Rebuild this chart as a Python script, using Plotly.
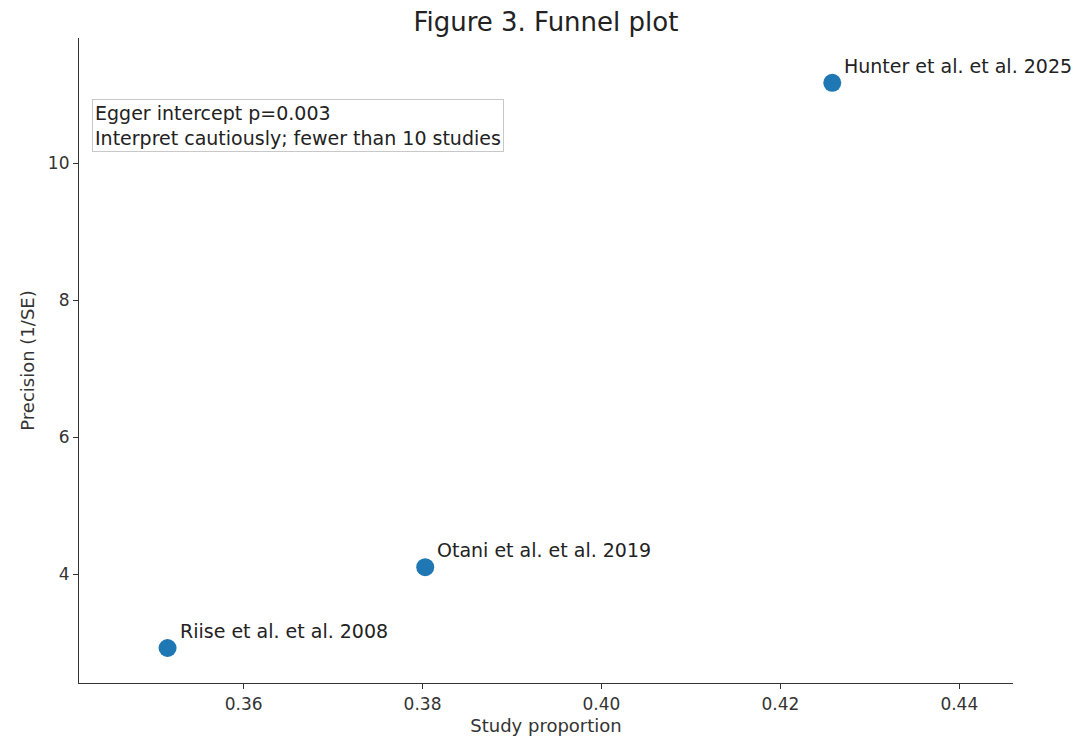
import plotly.graph_objects as go

studies = ["Riise et al. et al. 2008", "Otani et al. et al. 2019", "Hunter et al. et al. 2025"]
proportion = [0.3515, 0.3803, 0.4258]
precision = [2.92, 4.10, 11.17]
x_ticks = [0.36, 0.38, 0.40, 0.42, 0.44]
x_tick_labels = ["0.36", "0.38", "0.40", "0.42", "0.44"]
y_ticks = [4, 6, 8, 10]
y_tick_labels = ["4", "6", "8", "10"]
note_lines = ["Egger intercept p=0.003", "Interpret cautiously; fewer than 10 studies"]

font = "DejaVu Sans"
fig = go.Figure()
fig.add_trace(go.Scatter(
    x=proportion, y=precision, mode="markers",
    marker=dict(color="#1f77b4", size=18, line=dict(width=0)),
    hoverinfo="text", text=studies, showlegend=False,
))

for s, xv, yv in zip(studies, proportion, precision):
    fig.add_annotation(x=xv, y=yv, text=s, showarrow=False,
                       xanchor="left", yanchor="bottom", xshift=10, yshift=4,
                       font=dict(family=font, size=19, color="#222222"))

fig.add_annotation(xref="paper", yref="paper", x=0.014, y=0.905,
                   text="<br>".join(note_lines), showarrow=False, align="left",
                   xanchor="left", yanchor="top",
                   font=dict(family=font, size=19, color="#222222"),
                   bordercolor="#c8c8c8", borderwidth=1, borderpad=2,
                   bgcolor="white")

axis_common = dict(showline=True, linecolor="#333333", linewidth=1.2,
                   ticks="outside", ticklen=5, tickcolor="#333333",
                   showgrid=False, zeroline=False, automargin=False,
                   tickfont=dict(family=font, size=17, color="#333333"))

fig.update_layout(
    width=1081, height=740,
    margin=dict(l=79, r=68, t=38, b=57),
    plot_bgcolor="white", paper_bgcolor="white",
    title=dict(text="Figure 3. Funnel plot", x=0.505, xanchor="center",
               y=0.97, yanchor="middle",
               font=dict(family=font, size=26, color="#222222")),
    xaxis=dict(range=[0.3416, 0.4460], tickvals=x_ticks, ticktext=x_tick_labels,
               title=dict(text="Study proportion", standoff=6,
                          font=dict(family=font, size=18, color="#333333")),
               **axis_common),
    yaxis=dict(range=[2.409, 11.825], tickvals=y_ticks, ticktext=y_tick_labels,
               title=dict(text="Precision (1/SE)", standoff=8,
                          font=dict(family=font, size=18, color="#333333")),
               **axis_common),
)

fig.write_html("out.html")
